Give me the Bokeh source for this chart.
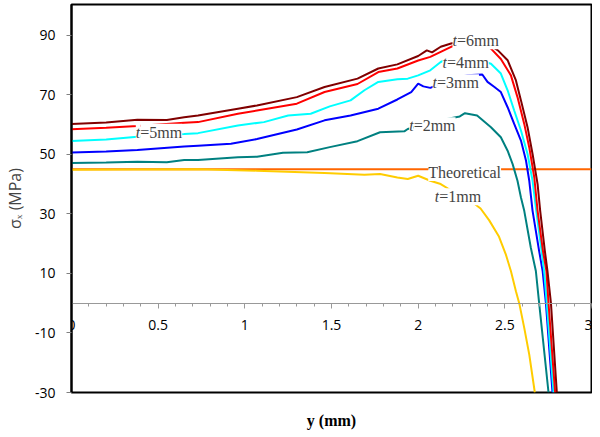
from bokeh.plotting import figure
from bokeh.models import LinearAxis, FixedTicker, Range1d, Label, CustomJSTickFormatter
from bokeh.embed import file_html
from bokeh.resources import INLINE

# ---- data (y in mm, sigma_x in MPa) ----
x6 = [0, 0.2, 0.38, 0.55, 0.65, 0.73, 0.96, 1.07, 1.30, 1.46, 1.65, 1.77, 1.88, 2.00, 2.05, 2.08, 2.13, 2.19, 2.23, 2.30, 2.36, 2.40, 2.46, 2.516, 2.564, 2.593, 2.631, 2.66, 2.689, 2.704, 2.731, 2.746, 2.766, 2.80]
y6 = [60.2, 60.7, 61.6, 61.5, 62.4, 63.0, 65.3, 66.4, 69.2, 72.6, 75.4, 78.8, 80.2, 83.0, 84.9, 84.2, 86.1, 87.2, 87.7, 87.5, 87.6, 87.2, 84.9, 81.6, 74.8, 68.1, 59.1, 50.1, 40.0, 31.0, 17.5, 10.8, 0, -30]

x5 = [0, 0.2, 0.38, 0.65, 0.73, 0.96, 1.07, 1.30, 1.46, 1.65, 1.77, 1.88, 2.00, 2.07, 2.13, 2.19, 2.25, 2.30, 2.38, 2.42, 2.477, 2.535, 2.573, 2.612, 2.641, 2.67, 2.689, 2.72, 2.74, 2.752, 2.79]
y5 = [58.4, 58.9, 59.5, 60.6, 60.8, 63.6, 64.7, 67.0, 70.9, 73.6, 77.6, 78.8, 81.5, 82.7, 84.4, 86.1, 87.2, 86.2, 87.0, 85.5, 82.0, 76.5, 69.2, 60.2, 52.3, 42.2, 31.0, 17.5, 10.8, 0, -30]

x4 = [0, 0.2, 0.38, 0.65, 0.73, 0.96, 1.11, 1.25, 1.38, 1.49, 1.61, 1.69, 1.77, 1.88, 1.94, 2.00, 2.07, 2.13, 2.16, 2.25, 2.33, 2.42, 2.477, 2.516, 2.554, 2.593, 2.631, 2.66, 2.679, 2.712, 2.727, 2.742, 2.781]
y4 = [54.5, 55.0, 55.9, 56.8, 57.1, 59.7, 60.8, 63.0, 63.6, 66.1, 68.1, 71.5, 74.3, 75.2, 75.4, 76.5, 78.2, 81.0, 81.8, 82.5, 82.0, 80.4, 77.1, 71.5, 64.7, 58.0, 50.1, 41.1, 32.1, 17.5, 10.8, 0, -30]

x3 = [0, 0.2, 0.38, 0.65, 0.73, 0.92, 1.07, 1.30, 1.46, 1.61, 1.77, 1.88, 1.96, 2.00, 2.03, 2.07, 2.13, 2.20, 2.28, 2.37, 2.40, 2.44, 2.477, 2.516, 2.554, 2.593, 2.622, 2.641, 2.66, 2.698, 2.718, 2.737, 2.775]
y3 = [50.6, 50.9, 51.4, 52.6, 52.9, 53.5, 55.1, 58.3, 61.4, 63.0, 65.3, 68.4, 70.9, 73.7, 72.8, 72.3, 73.7, 75.5, 76.5, 76.8, 74.3, 72.6, 70.9, 65.8, 60.2, 54.6, 47.9, 41.1, 31.0, 17.5, 10.8, 0, -30]

x2 = [0, 0.2, 0.38, 0.55, 0.65, 0.73, 0.96, 1.07, 1.22, 1.36, 1.49, 1.65, 1.78, 1.92, 1.94, 2.00, 2.10, 2.18, 2.24, 2.27, 2.34, 2.42, 2.477, 2.516, 2.545, 2.573, 2.593, 2.612, 2.65, 2.679, 2.698, 2.752]
y2 = [47.1, 47.2, 47.5, 47.3, 48.1, 48.1, 49.0, 49.2, 50.5, 50.7, 52.4, 54.4, 57.4, 57.7, 58.5, 59.5, 61.0, 62.0, 62.7, 63.8, 63.0, 59.1, 55.7, 51.2, 46.7, 41.1, 35.5, 31.0, 18.6, 10.8, 0, -30]

x1 = [0, 0.73, 1.07, 1.46, 1.69, 1.78, 1.88, 1.94, 2.00, 2.07, 2.13, 2.20, 2.30, 2.36, 2.41, 2.465, 2.505, 2.535, 2.564, 2.583, 2.612, 2.641, 2.673]
y1 = [44.8, 45.0, 44.5, 43.7, 43.1, 43.4, 42.2, 41.7, 42.8, 41.1, 40.0, 37.5, 34.5, 31.8, 27.8, 22.5, 16.5, 10.8, 4.0, 0, -8.3, -17.3, -30]

theo_x = [0, 3]
theo_y = [45, 45]

xticks = [0, 0.5, 1, 1.5, 2, 2.5, 3]
xminor = [round(i * 0.1, 1) for i in range(31)]
yticks = [-30, -10, 10, 30, 50, 70, 90]

series = [
    (x1, y1, "#FFCC00"),
    (x2, y2, "#008080"),
    (x3, y3, "#0000FF"),
    (x4, y4, "#00FFFF"),
    (x5, y5, "#FF0000"),
    (x6, y6, "#800000"),
]

# annotation labels: (x, baseline y, suffix)
tlabels = [
    (2.198, 88.1, "=6mm"),
    (2.140, 80.7, "=4mm"),
    (2.083, 74.0, "=3mm"),
    (1.948, 59.6, "=2mm"),
    (2.096, 35.7, "=1mm"),
    (0.371, 57.4, "=5mm"),
]

p = figure(width=592, height=432, output_backend="svg", toolbar_location=None,
           x_range=Range1d(0, 3), y_range=Range1d(-30, 100.3),
           x_axis_location=None, y_axis_location=None,
           min_border_left=71, min_border_right=1, min_border_top=4, min_border_bottom=40)
p.xgrid.visible = False
p.ygrid.visible = False
p.outline_line_color = "black"
p.outline_line_width = 2
p.background_fill_color = "white"
p.border_fill_color = "white"

yaxis = LinearAxis(ticker=FixedTicker(ticks=yticks, minor_ticks=[]),
                   formatter=CustomJSTickFormatter(code="return tick.toString();"),
                   axis_label="σₓ (MPa)")
yaxis.axis_line_width = 2
yaxis.axis_line_color = "black"
yaxis.major_tick_out = 5
yaxis.major_tick_in = 0
yaxis.major_tick_line_color = "#808080"
yaxis.minor_tick_line_color = None
yaxis.major_label_standoff = 11
yaxis.major_label_text_font = "Open Sans"
yaxis.major_label_text_font_size = "14px"
yaxis.major_label_text_color = "black"
yaxis.axis_label_text_font = "Open Sans"
yaxis.axis_label_text_font_size = "16px"
yaxis.axis_label_text_font_style = "normal"
yaxis.axis_label_standoff = 6
p.add_layout(yaxis, "left")

xaxis = LinearAxis(ticker=FixedTicker(ticks=xticks, minor_ticks=xminor), fixed_location=0)
xaxis.axis_line_color = "#999999"
xaxis.axis_line_width = 1
xaxis.major_tick_out = 5
xaxis.major_tick_in = 0
xaxis.minor_tick_out = 3
xaxis.minor_tick_in = 0
xaxis.major_tick_line_color = "#999999"
xaxis.minor_tick_line_color = "#999999"
xaxis.major_label_standoff = 12
xaxis.major_label_text_font = "Open Sans"
xaxis.major_label_text_font_size = "14px"
xaxis.major_label_text_color = "black"
p.add_layout(xaxis, "below")

# x-axis title (separate axis without ticks, below the frame)
xtitle = LinearAxis(ticker=FixedTicker(ticks=[], minor_ticks=[]), axis_label="y (mm)")
xtitle.axis_line_color = None
xtitle.major_tick_line_color = None
xtitle.minor_tick_line_color = None
xtitle.major_tick_out = 0
xtitle.minor_tick_out = 0
xtitle.major_label_standoff = 0
xtitle.axis_label_standoff = 19
xtitle.axis_label_text_font = "Liberation Serif"
xtitle.axis_label_text_font_style = "bold"
xtitle.axis_label_text_font_size = "16px"
xtitle.axis_label_text_color = "black"
p.add_layout(xtitle, "below")

p.line(theo_x, theo_y, line_color="#FF6600", line_width=2)
for xs, ys, c in series:
    p.line(xs, ys, line_color=c, line_width=2)

font = "Liberation Serif"
for lx, ly, suffix in tlabels:
    p.add_layout(Label(x=lx, y=ly, text="t", text_font=font, text_font_style="italic",
                       text_font_size="16px", text_baseline="alphabetic",
                       background_fill_color="white"))
    p.add_layout(Label(x=lx, y=ly, x_offset=4.5, text=suffix, text_font=font,
                       text_font_size="16px", text_baseline="alphabetic",
                       background_fill_color="white"))

p.add_layout(Label(x=2.058, y=43.9, text="Theoretical", text_font=font,
                   text_font_size="16px", text_baseline="alphabetic",
                   background_fill_color="white"))

open("out.html", "w").write(file_html(p, INLINE))
